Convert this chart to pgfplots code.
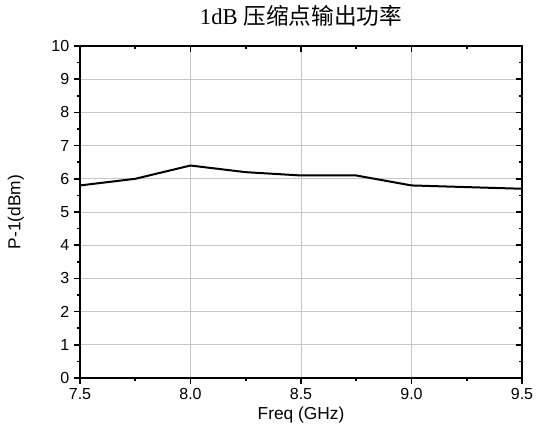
\documentclass[border=0pt]{standalone}
\usepackage{fontspec}
\setmainfont{Liberation Sans}
\newfontfamily\titleserif{Liberation Serif}
\newfontfamily\cjk{Noto Sans CJK SC}
\usepackage{pgfplots}
\pgfplotsset{compat=1.18}

\begin{document}
\begin{tikzpicture}
\useasboundingbox (-60pt,-43.5pt) rectangle (348pt,283.5pt);
\pgfplotsset{
  common/.style={
    scale only axis,
    width=331.5pt, height=249pt,
    at={(0,0)}, anchor=south west,
    xmin=7.5, xmax=9.5, ymin=0, ymax=10,
    xtick={7.5,8.0,...,9.5},
    ytick={0,1,...,10},
    minor x tick num=1, minor y tick num=1,
    axis line style={line width=1.5pt},
    major tick length=4.5pt, minor tick length=2.5pt,
    every tick/.style={black, line width=1.2pt},
    /pgf/number format/assume math mode=true,
    tick label style={font=\fontsize{12}{14}\selectfont},
  }
}
\begin{axis}[
  common,
  tick align=outside,
  xtick pos=bottom, ytick pos=left,
  grid=major,
  major grid style={black!22, line width=0.6pt},
  xticklabel style={/pgf/number format/.cd, fixed, fixed zerofill, precision=1},
  title={{\titleserif 1dB }{\cjk 压缩点输出功率}},
  title style={at={(axis description cs:0.5,1.09)}, anchor=center, yshift=-5.5pt, font=\fontsize{17}{19}\selectfont},
  xlabel={Freq (GHz)},
  xlabel style={at={(axis description cs:0.5,-0.112)}, anchor=center, font=\fontsize{13}{15}\selectfont},
  ylabel={P-1(dBm)},
  ylabel style={at={(axis description cs:-0.145,0.5)}, anchor=center, font=\fontsize{13}{15}\selectfont},
]
\addplot[black, line width=1.5pt] coordinates {
  (7.5,5.8) (7.75,6.0) (8.0,6.4) (8.25,6.2) (8.5,6.1) (8.75,6.1) (9.0,5.8) (9.5,5.7)
};
\end{axis}
\begin{axis}[
  common,
  tick align=inside,
  xtick pos=top, ytick pos=right,
  xticklabels={}, yticklabels={},
]
\end{axis}
\end{tikzpicture}
\end{document}
